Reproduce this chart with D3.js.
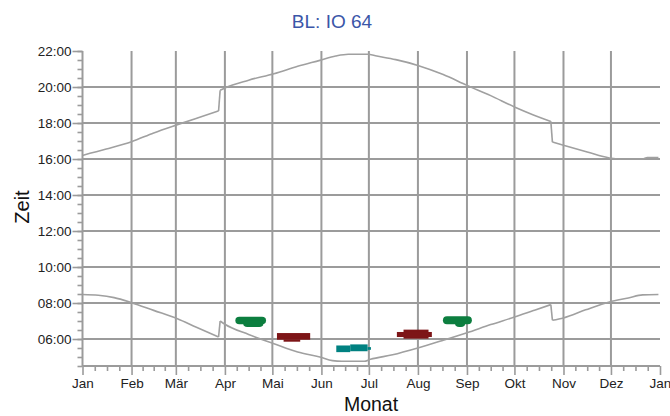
<!DOCTYPE html>
<html>
<head>
<meta charset="utf-8">
<script src="https://cdn.jsdelivr.net/npm/d3@7"></script>
<style>
  html, body { margin: 0; padding: 0; background: #fff; }
  svg { display: block; font-family: "Liberation Sans", Arial, sans-serif; }
</style>
</head>
<body>
<svg id="chart" width="670" height="416"></svg>
<script>
// ---------- data ----------
const monthLabels = ["Jan","Feb","Mär","Apr","Mai","Jun","Jul","Aug","Sep","Okt","Nov","Dez","Jan"];
const monthStartDays = [0,31,59,90,120,151,181,212,243,273,304,334,365];
const hourTicks = [6,8,10,12,14,16,18,20,22];
const hourLabels = ["06:00","08:00","10:00","12:00","14:00","16:00","18:00","20:00","22:00"];

// days on which the clock changes (curves jump there)
const clockChangeDays = [86, 296];

// sunset (day of year, hour)
const sunset = [
  [0,16.20],[15,16.55],[31,16.96],[45,17.45],[60,17.91],[75,18.35],[86,18.67],
  [87,19.82],[90,19.95],[105,20.38],[121,20.74],[136,21.15],[150,21.48],[160,21.72],
  [168,21.82],[180,21.82],[186,21.72],[198,21.52],[212,21.20],[228,20.69],
  [243,20.09],[258,19.52],[273,18.89],[285,18.45],[296,18.09],
  [297,16.94],[304,16.76],[319,16.39],[333,16.06],[340,16.00],[354,16.00],
  [357,16.08],[364,16.08]
];
// sunrise (day of year, hour)
const sunrise = [
  [0,8.47],[10,8.43],[20,8.30],[31,8.02],[45,7.59],[60,7.13],[72,6.65],[86,6.11],
  [87,7.00],[90,6.82],[105,6.25],[121,5.74],[136,5.28],[150,5.00],[158,4.80],
  [164,4.76],[178,4.76],[182,4.87],[196,5.12],[212,5.50],[228,5.93],[243,6.35],
  [258,6.80],[273,7.22],[285,7.58],[296,7.91],
  [297,7.04],[304,7.17],[318,7.62],[333,8.06],[345,8.28],[354,8.45],[364,8.47]
];

// observation blobs: [group, dayFrom, dayTo, hourTop, hourBottom]
const observations = [
  ["g", 96.6, 116.0, 7.24, 6.82],
  ["g", 101.6, 114.3, 7.02, 6.67],
  ["r", 122.9, 143.9, 6.33, 5.96],
  ["r", 127.1, 137.6, 5.98, 5.85],
  ["t", 160.4, 169.2, 5.64, 5.27],
  ["t", 169.2, 180.2, 5.70, 5.32],
  ["t", 180.2, 182.3, 5.55, 5.40],
  ["r", 202.9, 218.7, 6.52, 6.02],
  ["r", 198.7, 220.8, 6.39, 6.11],
  ["g", 227.8, 246.1, 7.26, 6.82],
  ["g", 235.5, 241.8, 7.02, 6.67]
];

// ---------- drawing ----------
const svg = d3.select("#chart");
const x = d3.scaleLinear().domain([0,365]).range([82.5, 660]);
const y = d3.scaleLinear().domain([4.5,22]).range([366, 51]);

const gridColor = "#9b9b9b";
const lineColor = "#a0a0a0";
const colors = { g: "#0c7e3f", r: "#7d1517", t: "#008181" };

// grid
svg.append("g").selectAll("line")
  .data(hourTicks.filter(h => h < 22))
  .join("line")
  .attr("x1", x(0)).attr("x2", x(365))
  .attr("y1", d => y(d)).attr("y2", d => y(d))
  .attr("stroke", gridColor).attr("stroke-width", 2);
svg.append("g").selectAll("line")
  .data(monthStartDays.slice(1, 12))
  .join("line")
  .attr("x1", d => x(d)).attr("x2", d => x(d))
  .attr("y1", y(22)).attr("y2", y(4.5))
  .attr("stroke", gridColor).attr("stroke-width", 2);

// curves: smooth pieces, straight jumps at clock changes
const smooth = d3.line().x(d => x(d[0])).y(d => y(d[1])).curve(d3.curveMonotoneX);
const straight = d3.line().x(d => x(d[0])).y(d => y(d[1]));
[sunset, sunrise].forEach(s => {
  const pieces = [[]];
  s.forEach((p, i) => {
    pieces[pieces.length - 1].push(p);
    if (clockChangeDays.includes(p[0]) && i < s.length - 1) pieces.push([]);
  });
  const g = svg.append("g").attr("fill", "none").attr("stroke", lineColor)
    .attr("stroke-width", 1.6);
  pieces.forEach((pc, i) => {
    g.append("path").datum(pc).attr("d", smooth);
    if (i > 0) g.append("path")
      .datum([pieces[i-1][pieces[i-1].length - 1], pc[0]]).attr("d", straight);
  });
});

// observation blobs
svg.append("g").selectAll("rect")
  .data(observations)
  .join("rect")
  .attr("x", d => x(d[1])).attr("width", d => x(d[2]) - x(d[1]))
  .attr("y", d => y(d[3])).attr("height", d => y(d[4]) - y(d[3]))
  .attr("rx", d => d[0] === "g" ? 4 : 0)
  .attr("fill", d => colors[d[0]]);

// axes
const minorHours = d3.range(4.5, 22.01, 0.5);
const yMinor = d3.axisLeft(y).tickValues(minorHours).tickSize(5).tickFormat("");
const yMajor = d3.axisLeft(y).tickValues(hourTicks).tickSize(10)
  .tickFormat((d, i) => hourLabels[i]);
const gy1 = svg.append("g").attr("transform", `translate(${x(0)},0)`).call(yMinor);
const gy2 = svg.append("g").attr("transform", `translate(${x(0)},0)`).call(yMajor);

const minorDays = [];
for (let m = 0; m < 12; m++) {
  const a = monthStartDays[m], b = monthStartDays[m+1];
  for (let k = 1; k < 4; k++) minorDays.push(a + (b - a) * k / 4);
}
const xMinor = d3.axisBottom(x).tickValues(minorDays).tickSize(5).tickFormat("");
const xMajor = d3.axisBottom(x).tickValues(monthStartDays).tickSize(9)
  .tickFormat((d, i) => monthLabels[i]);
const gx1 = svg.append("g").attr("transform", `translate(0,${y(4.5)})`).call(xMinor);
const gx2 = svg.append("g").attr("transform", `translate(0,${y(4.5)})`).call(xMajor);

[gy1, gy2, gx1, gx2].forEach(g => {
  g.selectAll(".domain").attr("stroke", gridColor).attr("stroke-width", 2);
  g.selectAll(".tick line").attr("stroke", gridColor).attr("stroke-width", 1.6);
});
gy1.select(".domain").remove(); gx1.select(".domain").remove();
gy2.select(".domain").attr("d", `M0,${y(22)}V${y(4.5)}`);
gx2.select(".domain").attr("d", `M${x(0)},0H${x(365)}`);

gy2.selectAll(".tick text").attr("font-size", 13.5).attr("fill", "#222")
  .attr("font-family", "Liberation Sans, Arial, sans-serif").attr("x", -11);
gx2.selectAll(".tick text").attr("font-size", 13.5).attr("fill", "#222")
  .attr("font-family", "Liberation Sans, Arial, sans-serif").attr("y", 12);

// titles
svg.append("text").attr("x", 332).attr("y", 28).attr("text-anchor", "middle")
  .attr("font-size", 19).attr("fill", "#3b56a8").text("BL: IO 64");
svg.append("text").attr("x", 371).attr("y", 411).attr("text-anchor", "middle")
  .attr("font-size", 19.5).attr("fill", "#111").text("Monat");
svg.append("text").attr("transform", "translate(28.5,207) rotate(-90)")
  .attr("text-anchor", "middle").attr("font-size", 20).attr("fill", "#111").text("Zeit");
</script>
</body>
</html>
